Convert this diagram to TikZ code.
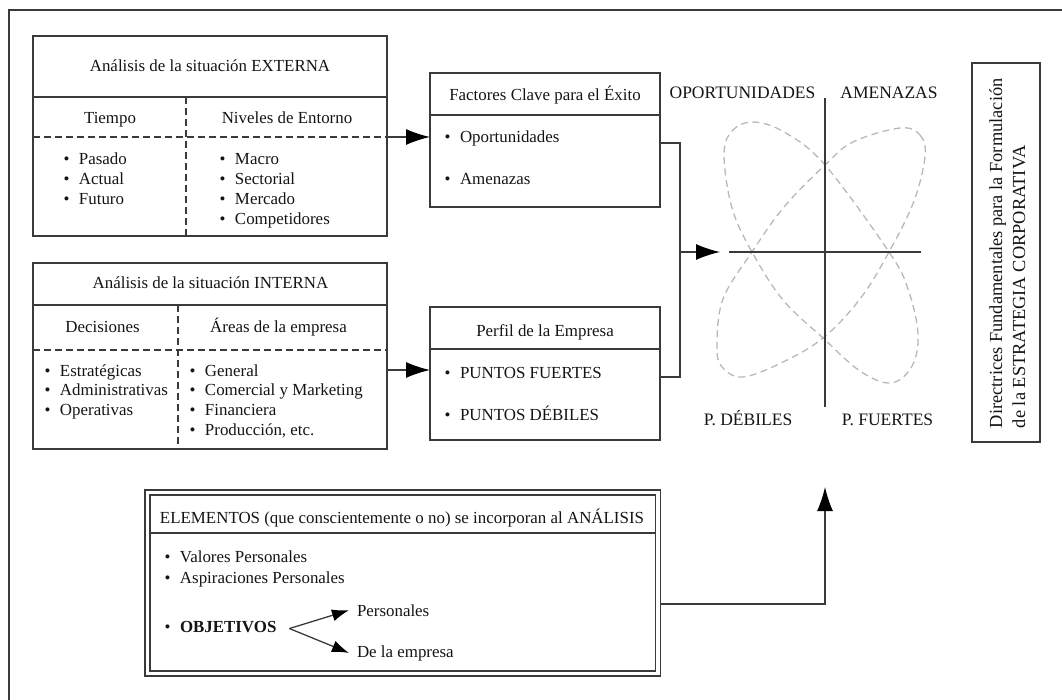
\documentclass[tikz,border=0pt]{standalone}
\usepackage{fontspec}
\setmainfont{Liberation Serif}
\usetikzlibrary{arrows.meta,calc}
\definecolor{ink}{HTML}{3A3A3A}
\definecolor{loopgray}{HTML}{B8B8B8}
% bullet hanging to the left of the item text
\newcommand\bulitem[1]{\llap{\textbullet\hspace{9.5pt}}#1}

\begin{document}
\begin{tikzpicture}[x=1pt,y=-1pt,
  every node/.style={inner sep=0pt, outer sep=0pt, text=black!92},
  txt/.style={font=\fontsize{16.9}{20}\selectfont, anchor=base west},
  ctxt/.style={font=\fontsize{16.9}{20}\selectfont, anchor=base},
  qlab/.style={font=\fontsize{17.5}{20}\selectfont, anchor=base},
  frame/.style={draw=ink, line width=1.3pt},
  rule/.style={draw=ink, line width=1.3pt},
  divider/.style={draw=ink, line width=1.1pt, dash pattern=on 7pt off 4pt},
  conn/.style={draw=ink, line width=1.3pt},
  bigarrow/.style={conn, -{Latex[length=24pt, width=16pt, color=black]}},
  smallarrow/.style={conn, -{Latex[length=17pt, width=12pt, color=black]}},
  axis/.style={draw=ink, line width=1.6pt},
  orbit/.style={draw=loopgray, line width=1.3pt, dash pattern=on 7pt off 4.5pt},
]
\useasboundingbox (0,0) rectangle (1062,700);

% outer frame
\draw[frame] (9,700) -- (9,10) -- (1062,10);

% ---------- external analysis ----------
\node[frame, minimum width=354pt, minimum height=200pt] (ext) at (210,136) {};
\draw[rule] (ext.west |- 0,97) -- (ext.east |- 0,97);
\draw[divider] (ext.west |- 0,137) -- (ext.east |- 0,137);
\draw[divider] (186,97) -- (ext.south -| 186,0);
\node[ctxt] (extT) at (210,72) {Análisis de la situación EXTERNA};
\node[ctxt] (extH1) at (110,124) {Tiempo};
\node[ctxt] (extH2) at (287,124) {Niveles de Entorno};
\foreach \t [count=\i] in {Pasado,Actual,Futuro}
  \node[txt] (extA\i) at (79,{165+19.7*(\i-1)}) {\bulitem{\t}};
\foreach \t [count=\i] in {Macro,Sectorial,Mercado,Competidores}
  \node[txt] (extB\i) at (235,{165+19.7*(\i-1)}) {\bulitem{\t}};

% ---------- internal analysis ----------
\node[frame, minimum width=354pt, minimum height=186pt] (int) at (210,356) {};
\draw[rule] (int.west |- 0,305) -- (int.east |- 0,305);
\draw[divider] (int.west |- 0,350) -- (int.east |- 0,350);
\draw[divider] (178,305) -- (int.south -| 178,0);
\node[ctxt] (intT) at (210.5,289) {Análisis de la situación INTERNA};
\node[ctxt] (intH1) at (102.5,332) {Decisiones};
\node[ctxt] (intH2) at (278.5,332) {Áreas de la empresa};
\foreach \t [count=\i] in {Estratégicas,Administrativas,Operativas}
  \node[txt] (intA\i) at (60,{376+19.7*(\i-1)}) {\bulitem{\t}};
\foreach \t [count=\i] in {General,Comercial y Marketing,Financiera,{Producción, etc.}}
  \node[txt] (intB\i) at (205,{376+19.7*(\i-1)}) {\bulitem{\t}};

% ---------- key success factors ----------
\node[frame, minimum width=230pt, minimum height=134pt] (kf) at (545,140) {};
\draw[rule] (kf.west |- 0,115) -- (kf.east |- 0,115);
\node[ctxt] (kfT) at (545,101) {Factores Clave para el Éxito};
\node[txt] (kf1) at (460,143) {\bulitem{Oportunidades}};
\node[txt] (kf2) at (460,185) {\bulitem{Amenazas}};

% ---------- company profile ----------
\node[frame, minimum width=230pt, minimum height=133pt] (perf) at (545,373.5) {};
\draw[rule] (perf.west |- 0,349) -- (perf.east |- 0,349);
\node[ctxt] (perfT) at (545,337) {Perfil de la Empresa};
\node[txt] (perf1) at (460,378) {\bulitem{PUNTOS FUERTES}};
\node[txt] (perf2) at (460,420) {\bulitem{PUNTOS DÉBILES}};

% ---------- connectors into the boxes ----------
\draw[divider] (ext.east |- 0,137) -- (398,137);
\draw[bigarrow] (ext.east |- 0,137) -- (kf.west |- 0,137);
\draw[bigarrow] (int.east |- 0,370) -- (perf.west |- 0,370);

% junction toward the matrix
\coordinate (jn) at (680,252);
\coordinate (mtip) at (720,252);
\draw[conn] (kf.east |- 0,143) -| (jn) |- (perf.east |- 0,377);
\draw[bigarrow] (jn) -- (mtip);

% ---------- SWOT matrix ----------
\coordinate (vtop) at (825,98);
\coordinate (vbot) at (825,407);
\coordinate (hl) at (729,252);
\coordinate (hr) at (921,252);
\draw[orbit] plot[smooth cycle, tension=0.6] coordinates {
  (724,155) (732,131) (753,122) (784,132) (825,165) (889,252) (908,289)
  (918,334) (912,366) (891,383) (860,371) (823,338) (783,300) (752,252) (732,208)};
\draw[orbit] plot[smooth cycle, tension=0.6] coordinates {
  (900,128) (920,135) (925,156) (914,201) (889,252) (860,299) (823,338)
  (783,362) (743,377) (722,367) (717,346) (723,299) (752,252) (784,207) (825,165) (853,142)};
\draw[axis] (vtop) -- (vbot);
\draw[axis] (hl) -- (hr);
\node[qlab] (qO) at (742.5,99) {OPORTUNIDADES};
\node[qlab] (qA) at (889,99) {AMENAZAS};
\node[qlab] (qD) at (748,425) {P. DÉBILES};
\node[qlab] (qF) at (887.5,425) {P. FUERTES};

% ---------- guideline box ----------
\node[frame, minimum width=68pt, minimum height=379pt] (dir) at (1006,252.5) {};
\node[rotate=90, anchor=base west, font=\fontsize{18.4}{23}\selectfont] (dir1) at (1002,428)
  {Directrices Fundamentales para la Formulación};
\node[rotate=90, anchor=base west, font=\fontsize{18.4}{23}\selectfont] (dir2) at (1025,428)
  {de la ESTRATEGIA CORPORATIVA};

% ---------- elements box ----------
\node[draw=ink, line width=1.2pt, double, double distance=3.8pt,
      minimum width=510.5pt, minimum height=181pt] (elem) at (402.75,583) {};
\draw[rule] ($(elem.north west)+(2.5,40.5)$) -- ($(elem.north east)+(-2.5,40.5)$);
\node[ctxt] (elemT) at (402,523) {ELEMENTOS (que conscientemente o no) se incorporan al ANÁLISIS};
\node[txt] (el1) at (180,562) {\bulitem{Valores Personales}};
\node[txt] (el2) at (180,583) {\bulitem{Aspiraciones Personales}};
\node[txt] (obj) at (180,632) {\bulitem{\textbf{OBJETIVOS}}};
\node[txt] (pers) at (357,616) {Personales};
\node[txt] (dle) at (357,657) {De la empresa};
\draw[smallarrow] ([xshift=13pt,yshift=-2pt]obj.east) -- ([xshift=-8pt]pers.west);
\draw[smallarrow] ([xshift=13pt,yshift=-2pt]obj.east) -- ([xshift=-8pt]dle.west);

% elements feed the matrix
\coordinate (etip) at (825,487);
\draw[bigarrow] ($(elem.east |- 0,604)+(2.5,0)$) -| (etip);
\end{tikzpicture}
\end{document}
